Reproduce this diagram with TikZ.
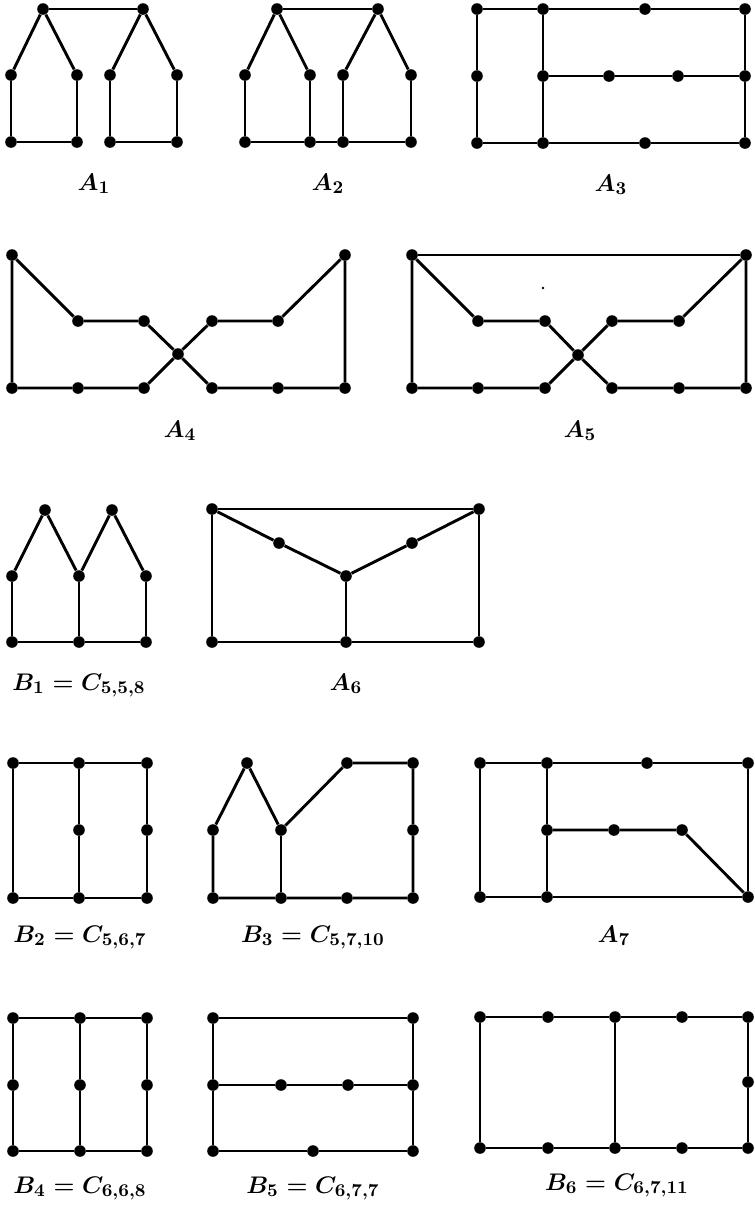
\documentclass[tikz,border=0pt]{standalone}
\begin{document}
\begin{tikzpicture}[x=0.5pt,y=-0.5pt,
  v/.style={circle,fill=black,draw=none,inner sep=0pt,minimum size=5.8pt},
  e/.style={line width=1.45pt,line join=round},
  lab/.style={anchor=base,inner sep=0pt,font=\fontsize{12.5}{14}\selectfont\boldmath}]
\useasboundingbox (0,0) rectangle (755,1207);
% ---------- A1
\node[v] (a1t1) at (43,9) {}; \node[v] (a1t2) at (143,9) {};
\node[v] (a1m1) at (11,75) {}; \node[v] (a1m2) at (77,75) {};
\node[v] (a1m3) at (110,75) {}; \node[v] (a1m4) at (177,75) {};
\node[v] (a1b1) at (11,142) {}; \node[v] (a1b2) at (77,142) {};
\node[v] (a1b3) at (110,142) {}; \node[v] (a1b4) at (177,142) {};
\draw[e] (a1t1) -- (a1t2);
\draw[e] (a1m1) -- (a1t1) -- (a1m2);
\draw[e] (a1m3) -- (a1t2) -- (a1m4);
\draw[e] (a1m1) -- (a1b1) -- (a1b2) -- (a1m2);
\draw[e] (a1m3) -- (a1b3) -- (a1b4) -- (a1m4);
\node[lab] (la1) at (94,190) {$A_1$};
% ---------- A2
\node[v] (a2t1) at (277,9) {}; \node[v] (a2t2) at (378,9) {};
\node[v] (a2m1) at (245,75) {}; \node[v] (a2m2) at (310,75) {};
\node[v] (a2m3) at (343,75) {}; \node[v] (a2m4) at (411,75) {};
\node[v] (a2b1) at (245,142) {}; \node[v] (a2b2) at (310,142) {};
\node[v] (a2b3) at (343,142) {}; \node[v] (a2b4) at (411,142) {};
\draw[e] (a2t1) -- (a2t2);
\draw[e] (a2m1) -- (a2t1) -- (a2m2);
\draw[e] (a2m3) -- (a2t2) -- (a2m4);
\draw[e] (a2m1) -- (a2b1) -- (a2b2) -- (a2b3) -- (a2b4) -- (a2m4);
\draw[e] (a2m2) -- (a2b2);
\draw[e] (a2m3) -- (a2b3);
\node[lab] (la2) at (328,190) {$A_2$};
% ---------- A3
\node[v] (a3t1) at (477,9) {}; \node[v] (a3t2) at (543,9) {};
\node[v] (a3t3) at (645,9) {}; \node[v] (a3t4) at (745,9) {};
\node[v] (a3m1) at (477,76) {}; \node[v] (a3m2) at (543,76) {};
\node[v] (a3m3) at (609,76) {}; \node[v] (a3m4) at (678,76) {};
\node[v] (a3m5) at (745,76) {};
\node[v] (a3b1) at (477,143) {}; \node[v] (a3b2) at (543,143) {};
\node[v] (a3b3) at (645,143) {}; \node[v] (a3b4) at (745,143) {};
\draw[e] (a3t1) -- (a3t2) -- (a3t3) -- (a3t4);
\draw[e] (a3b1) -- (a3b2) -- (a3b3) -- (a3b4);
\draw[e] (a3t1) -- (a3m1) -- (a3b1);
\draw[e] (a3t2) -- (a3m2) -- (a3b2);
\draw[e] (a3t4) -- (a3m5) -- (a3b4);
\draw[e] (a3m2) -- (a3m3) -- (a3m4) -- (a3m5);
\node[lab] (la3) at (611,191) {$A_3$};
% ---------- A4
\node[v] (a4tl) at (12,255) {}; \node[v] (a4tr) at (345,255) {};
\node[v] (a4u1) at (78,321) {}; \node[v] (a4u2) at (144,321) {};
\node[v] (a4u3) at (212,321) {}; \node[v] (a4u4) at (278,321) {};
\node[v] (a4c) at (178,354) {};
\node[v] (a4b1) at (12,388) {}; \node[v] (a4b2) at (78,388) {};
\node[v] (a4b3) at (144,388) {}; \node[v] (a4b4) at (212,388) {};
\node[v] (a4b5) at (278,388) {}; \node[v] (a4b6) at (345,388) {};
\draw[e] (a4b3) -- (a4b2) -- (a4b1) -- (a4tl) -- (a4u1) -- (a4u2) -- (a4c) -- (a4u3) -- (a4u4) -- (a4tr) -- (a4b6) -- (a4b5) -- (a4b4) -- (a4c) -- (a4b3);
\node[lab] (la4) at (180,437) {$A_4$};
% ---------- A5
\node[v] (a5tl) at (412,255) {}; \node[v] (a5tr) at (746,255) {};
\node[v] (a5u1) at (478,321) {}; \node[v] (a5u2) at (545,321) {};
\node[v] (a5u3) at (612,321) {}; \node[v] (a5u4) at (679,321) {};
\node[v] (a5c) at (578,355) {};
\node[v] (a5b1) at (412,388) {}; \node[v] (a5b2) at (478,388) {};
\node[v] (a5b3) at (545,388) {}; \node[v] (a5b4) at (612,388) {};
\node[v] (a5b5) at (679,388) {}; \node[v] (a5b6) at (746,388) {};
\draw[e] (a5b3) -- (a5b2) -- (a5b1) -- (a5tl) -- (a5u1) -- (a5u2) -- (a5c) -- (a5u3) -- (a5u4) -- (a5tr) -- (a5b6) -- (a5b5) -- (a5b4) -- (a5c) -- (a5b3);
\draw[e] (a5tl) -- (a5tr);
\node[circle,fill=black,inner sep=0pt,minimum size=1.3pt] (a5dot) at (543,288) {};
\node[lab] (la5) at (580,437) {$A_5$};
% ---------- B1
\node[v] (b1t1) at (45,510) {}; \node[v] (b1t2) at (112,510) {};
\node[v] (b1m1) at (12,576) {}; \node[v] (b1m2) at (79,576) {};
\node[v] (b1m3) at (146,576) {};
\node[v] (b1b1) at (12,642) {}; \node[v] (b1b2) at (79,642) {};
\node[v] (b1b3) at (146,642) {};
\draw[e] (b1m1) -- (b1t1) -- (b1m2) -- (b1t2) -- (b1m3);
\draw[e] (b1m1) -- (b1b1) -- (b1b2) -- (b1b3) -- (b1m3);
\draw[e] (b1m2) -- (b1b2);
\node[lab] (lb1) at (79,690) {$B_1=C_{5,5,8}$};
% ---------- A6
\node[v] (a6tl) at (212,509) {}; \node[v] (a6tr) at (479,509) {};
\node[v] (a6d1) at (279,543) {}; \node[v] (a6d2) at (412,543) {};
\node[v] (a6c) at (346,576) {};
\node[v] (a6b1) at (212,642) {}; \node[v] (a6b2) at (346,642) {};
\node[v] (a6b3) at (479,642) {};
\draw[e] (a6tl) -- (a6tr) -- (a6b3) -- (a6b2) -- (a6b1) -- (a6tl);
\draw[e] (a6tl) -- (a6d1) -- (a6c) -- (a6d2) -- (a6tr);
\draw[e] (a6c) -- (a6b2);
\node[lab] (la6) at (346,690) {$A_6$};
% ---------- B2
\node[v] (b2t1) at (13,763) {}; \node[v] (b2t2) at (79,763) {};
\node[v] (b2t3) at (147,763) {};
\node[v] (b2m2) at (79,830) {}; \node[v] (b2m3) at (147,830) {};
\node[v] (b2b1) at (13,898) {}; \node[v] (b2b2) at (79,898) {};
\node[v] (b2b3) at (147,898) {};
\draw[e] (b2t1) -- (b2t2) -- (b2t3) -- (b2m3) -- (b2b3) -- (b2b2) -- (b2b1) -- (b2t1);
\draw[e] (b2t2) -- (b2m2) -- (b2b2);
\node[lab] (lb2) at (80,942) {$B_2=C_{5,6,7}$};
% ---------- B3
\node[v] (b3p) at (247,763) {}; \node[v] (b3t1) at (347,763) {};
\node[v] (b3t2) at (413,763) {};
\node[v] (b3m1) at (213,830) {}; \node[v] (b3m2) at (281,830) {};
\node[v] (b3m3) at (413,830) {};
\node[v] (b3b1) at (213,898) {}; \node[v] (b3b2) at (281,898) {};
\node[v] (b3b3) at (347,898) {}; \node[v] (b3b4) at (413,898) {};
\draw[e] (b3m1) -- (b3p) -- (b3m2) -- (b3t1) -- (b3t2) -- (b3m3) -- (b3b4) -- (b3b3) -- (b3b2) -- (b3b1) -- (b3m1);
\draw[e] (b3m2) -- (b3b2);
\node[lab] (lb3) at (313,942) {$B_3=C_{5,7,10}$};
% ---------- A7
\node[v] (a7t1) at (480,763) {}; \node[v] (a7t2) at (547,763) {};
\node[v] (a7t3) at (647,763) {}; \node[v] (a7t4) at (748,763) {};
\node[v] (a7m1) at (547,830) {}; \node[v] (a7m2) at (614,830) {};
\node[v] (a7m3) at (682,830) {};
\node[v] (a7b1) at (480,897) {}; \node[v] (a7b2) at (547,897) {};
\node[v] (a7b3) at (748,897) {};
\draw[e] (a7t1) -- (a7t2) -- (a7t3) -- (a7t4) -- (a7b3) -- (a7b2) -- (a7b1) -- (a7t1);
\draw[e] (a7t2) -- (a7m1) -- (a7b2);
\draw[e] (a7m1) -- (a7m2) -- (a7m3) -- (a7b3);
\node[lab] (la7) at (614,942) {$A_7$};
% ---------- B4
\node[v] (b4t1) at (13,1018) {}; \node[v] (b4t2) at (80,1018) {};
\node[v] (b4t3) at (147,1018) {};
\node[v] (b4m1) at (13,1085) {}; \node[v] (b4m2) at (80,1085) {};
\node[v] (b4m3) at (147,1085) {};
\node[v] (b4b1) at (13,1151) {}; \node[v] (b4b2) at (80,1151) {};
\node[v] (b4b3) at (147,1151) {};
\draw[e] (b4t1) -- (b4t2) -- (b4t3) -- (b4m3) -- (b4b3) -- (b4b2) -- (b4b1) -- (b4m1) -- (b4t1);
\draw[e] (b4t2) -- (b4m2) -- (b4b2);
\node[lab] (lb4) at (80,1193) {$B_4=C_{6,6,8}$};
% ---------- B5
\node[v] (b5t1) at (213,1018) {}; \node[v] (b5t2) at (413,1018) {};
\node[v] (b5m1) at (213,1085) {}; \node[v] (b5m2) at (281,1085) {};
\node[v] (b5m3) at (348,1085) {}; \node[v] (b5m4) at (413,1085) {};
\node[v] (b5b1) at (213,1151) {}; \node[v] (b5b2) at (313,1151) {};
\node[v] (b5b3) at (413,1151) {};
\draw[e] (b5t1) -- (b5t2) -- (b5m4) -- (b5b3) -- (b5b2) -- (b5b1) -- (b5m1) -- (b5t1);
\draw[e] (b5m1) -- (b5m2) -- (b5m3) -- (b5m4);
\node[lab] (lb5) at (313,1193) {$B_5=C_{6,7,7}$};
% ---------- B6
\node[v] (b6t1) at (480,1017) {}; \node[v] (b6t2) at (548,1017) {};
\node[v] (b6t3) at (615,1017) {}; \node[v] (b6t4) at (682,1017) {};
\node[v] (b6t5) at (748,1017) {};
\node[v] (b6m) at (748,1082) {};
\node[v] (b6b1) at (480,1148) {}; \node[v] (b6b2) at (548,1148) {};
\node[v] (b6b3) at (615,1148) {}; \node[v] (b6b4) at (682,1148) {};
\node[v] (b6b5) at (748,1148) {};
\draw[e] (b6t1) -- (b6t2) -- (b6t3) -- (b6t4) -- (b6t5) -- (b6m) -- (b6b5) -- (b6b4) -- (b6b3) -- (b6b2) -- (b6b1) -- (b6t1);
\draw[e] (b6t3) -- (b6b3);
\node[lab] (lb6) at (617,1190) {$B_6=C_{6,7,11}$};
\end{tikzpicture}
\end{document}
